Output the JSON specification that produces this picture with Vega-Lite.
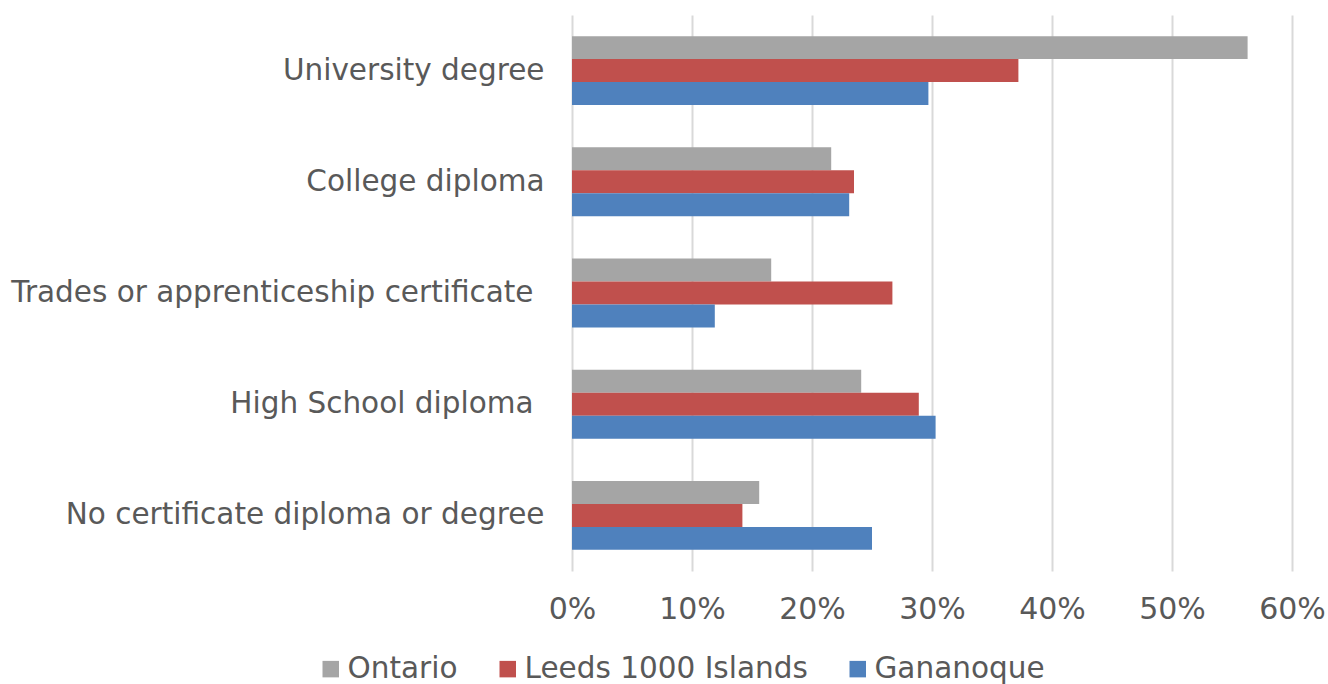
{
  "$schema": "https://vega.github.io/schema/vega-lite/v6.json",
  "width": 720,
  "height": 556,
  "autosize": {"type": "none"},
  "padding": {"left": 572, "top": 15, "right": 36, "bottom": 113},
  "background": "white",
  "config": {
    "view": {"stroke": null},
    "font": "DejaVu Sans"
  },
  "data": {
    "values": [
      {"category": "University degree", "region": "Ontario", "value": 0.563},
      {"category": "University degree", "region": "Leeds 1000 Islands", "value": 0.372},
      {"category": "University degree", "region": "Gananoque", "value": 0.297},
      {"category": "College diploma", "region": "Ontario", "value": 0.216},
      {"category": "College diploma", "region": "Leeds 1000 Islands", "value": 0.235},
      {"category": "College diploma", "region": "Gananoque", "value": 0.231},
      {"category": "Trades or apprenticeship certificate", "region": "Ontario", "value": 0.166},
      {"category": "Trades or apprenticeship certificate", "region": "Leeds 1000 Islands", "value": 0.267},
      {"category": "Trades or apprenticeship certificate", "region": "Gananoque", "value": 0.119},
      {"category": "High School diploma", "region": "Ontario", "value": 0.241},
      {"category": "High School diploma", "region": "Leeds 1000 Islands", "value": 0.289},
      {"category": "High School diploma", "region": "Gananoque", "value": 0.303},
      {"category": "No certificate diploma or degree", "region": "Ontario", "value": 0.156},
      {"category": "No certificate diploma or degree", "region": "Leeds 1000 Islands", "value": 0.142},
      {"category": "No certificate diploma or degree", "region": "Gananoque", "value": 0.250}
    ]
  },
  "mark": {"type": "bar"},
  "encoding": {
    "y": {
      "field": "category",
      "type": "nominal",
      "sort": null,
      "scale": {"paddingInner": 0.38, "paddingOuter": 0.19},
      "axis": {
        "title": null,
        "domain": false,
        "ticks": false,
        "grid": false,
        "labelPadding": {
          "condition": {"test": "datum.value === 'Trades or apprenticeship certificate' || datum.value === 'High School diploma'", "value": 39},
          "value": 28
        },
        "labelFontSize": 29.5,
        "labelColor": "#595959",
        "labelLimit": 600
      }
    },
    "yOffset": {
      "field": "region",
      "type": "nominal",
      "sort": ["Ontario", "Leeds 1000 Islands", "Gananoque"]
    },
    "x": {
      "field": "value",
      "type": "quantitative",
      "scale": {"domain": [0, 0.6], "nice": false},
      "axis": {
        "title": null,
        "format": ".0%",
        "values": [0, 0.1, 0.2, 0.3, 0.4, 0.5, 0.6],
        "domain": false,
        "ticks": false,
        "grid": true,
        "gridColor": "#d9d9d9",
        "gridWidth": 2,
        "labelFlush": false,
        "labelPadding": 23,
        "labelFontSize": 30,
        "labelColor": "#595959"
      }
    },
    "color": {
      "field": "region",
      "type": "nominal",
      "sort": ["Ontario", "Leeds 1000 Islands", "Gananoque"],
      "scale": {
        "domain": ["Ontario", "Leeds 1000 Islands", "Gananoque"],
        "range": ["#A5A5A5", "#C0504D", "#4F81BD"]
      },
      "legend": {
        "title": null,
        "orient": "none",
        "direction": "horizontal",
        "legendX": -256,
        "legendY": 639,
        "symbolType": "square",
        "symbolSize": 272,
        "symbolStrokeWidth": 0,
        "labelFontSize": 29.5,
        "labelColor": "#595959",
        "labelOffset": 2,
        "columnPadding": 35,
        "labelLimit": 400
      }
    }
  }
}
